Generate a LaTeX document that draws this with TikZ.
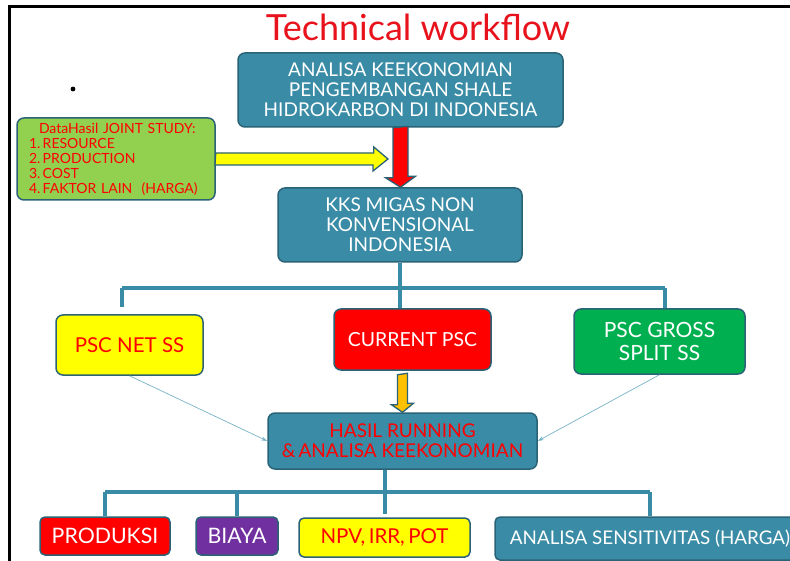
\documentclass[tikz,border=0pt]{standalone}
\usepackage{fontspec}
\setmainfont{Lato}
\usepackage{tikz}
\usetikzlibrary{arrows.meta}
\definecolor{flowteal}{RGB}{58,140,166}
\definecolor{flowrim}{RGB}{42,98,118}
\definecolor{flowlime}{RGB}{146,208,80}
\definecolor{flowgreen}{RGB}{0,176,80}
\definecolor{flowpurple}{RGB}{112,48,160}
\definecolor{flowred}{RGB}{255,0,0}
\definecolor{flowyellow}{RGB}{255,255,0}
\definecolor{floworange}{RGB}{255,192,0}
\definecolor{titlered}{RGB}{232,18,28}
\definecolor{thinteal}{RGB}{120,178,198}

\begin{document}
\begin{tikzpicture}[
  x=1pt, y=-1pt,
  box/.style={
    rectangle, rounded corners=7pt,
    draw=flowrim, line width=1.5pt,
    fill=flowteal, text=white,
    align=center, inner sep=2pt,
    font=\fontsize{19}{20}\selectfont
  },
  smallbox/.style={
    box, rounded corners=5pt,
    font=\fontsize{21.3}{22}\selectfont
  },
  databox/.style={
    box, fill=flowlime, text=flowred,
    align=left, text width=174pt,
    font=\fontsize{14}{15}\selectfont
  },
  bar/.style={flowteal, line width=4pt},
  blockarr/.style={draw=flowrim, line width=1.3pt, line join=miter},
  thinarrow/.style={-{Stealth[length=6pt,width=4pt]}, thinteal, line width=0.7pt}
]

\useasboundingbox (0,0) rectangle (790,561);
\draw[line width=3pt] (9.5,561) -- (9.5,7) -- (790,7);

\node[text=titlered, font=\fontsize{36}{40}\selectfont] (title) at (418,27) {Technical workflow};
\node[circle, fill=black, inner sep=1.7pt] (bullet) at (73,89) {};

\node[box, minimum width=325pt, minimum height=74pt] (kaji) at (400.5,90)
  {ANALISA KEEKONOMIAN\\PENGEMBANGAN SHALE\\HIDROKARBON DI INDONESIA};
\node[databox, minimum width=198pt, minimum height=82pt] (data) at (116,159)
  {\hspace*{10pt}DataHasil JOINT STUDY:\\1.\,RESOURCE\\2.\,PRODUCTION\\3.\,COST\\4.\,FAKTOR LAIN\ \ (HARGA)};
\node[box, minimum width=244pt, minimum height=74pt] (kks) at (400,225)
  {KKS MIGAS NON\\KONVENSIONAL\\INDONESIA};

\node[box, fill=flowyellow, text=flowred, minimum width=147pt, minimum height=60pt,
      font=\fontsize{20.5}{23}\selectfont] (pscnet) at (129.5,345) {PSC NET SS};
\node[box, fill=flowred, minimum width=157pt, minimum height=61pt,
      font=\fontsize{19.4}{22}\selectfont] (current) at (412.5,339.5) {CURRENT PSC};
\node[box, fill=flowgreen, minimum width=171pt, minimum height=65pt,
      font=\fontsize{21}{23}\selectfont] (gross) at (659.5,341.5) {PSC GROSS\\SPLIT SS};

\node[box, text=flowred, minimum width=269pt, minimum height=56pt] (hasil) at (402.5,441)
  {HASIL RUNNING\\\&\,ANALISA KEEKONOMIAN};

\node[smallbox, fill=flowred, minimum width=130pt, minimum height=38pt] (produksi) at (105,536) {PRODUKSI};
\node[smallbox, fill=flowpurple, minimum width=82pt, minimum height=38pt] (biaya) at (237,536) {BIAYA};
\node[smallbox, fill=flowyellow, text=flowred, minimum width=171pt, minimum height=39pt,
      font=\fontsize{20.5}{22}\selectfont] (npv) at (384.5,537.5) {NPV,\,IRR,\,POT};
\node[smallbox, minimum width=310pt, minimum height=43pt,
      font=\fontsize{18.8}{20}\selectfont] (sens) at (650,538.5) {ANALISA SENSITIVITAS (HARGA)};

\coordinate (t1) at (122,288);
\coordinate (t3) at (665,288);
\draw[bar] (t1) -- (t3);
\draw[bar] (kks.south) -- (kks.south |- current.north);
\draw[bar, shorten >=7pt] (t1) -- (t1 |- pscnet.north);
\draw[bar] (t3) -- (t3 |- gross.north);

\coordinate (b2) at (0,492);
\draw[bar] (produksi.north |- b2) -- (sens.north |- b2);
\draw[bar] (npv.north |- hasil.south) -- ([yshift=3pt]npv.north);
\draw[bar] (produksi.north |- b2) -- (produksi.north);
\draw[bar] (biaya.north |- b2) -- (biaya.north);
\draw[bar] (sens.north |- b2) -- (sens.north);

\coordinate (yieldtip) at (388,159);
\draw[blockarr, fill=flowyellow] ([yshift=6pt]data.east) -- ++(158,0) -- ++(0,-6)
  -- (yieldtip) -- ++(-15,12) -- ++(0,-6) -- ++(-158,0) -- cycle;
\draw[blockarr, fill=flowred] ([xshift=-7.5pt]kaji.south) -- ++(0,50) -- ++(-7.5,0)
  -- (kaji.south |- kks.north) -- ++(15,-11) -- ++(-7.5,0) -- ++(0,-50) -- cycle;
\draw[blockarr, fill=floworange] ([xshift=-5pt,yshift=-4pt]hasil.north |- current.south) -- ++(0,30) -- ++(-6,0)
  -- (hasil.north) -- ++(11,-9) -- ++(-6,0) -- ++(0,-30) -- cycle;

\draw[thinarrow] (pscnet.south) -- (hasil.west);
\draw[thinarrow] (gross.south) -- (hasil.east);

\end{tikzpicture}
\end{document}
